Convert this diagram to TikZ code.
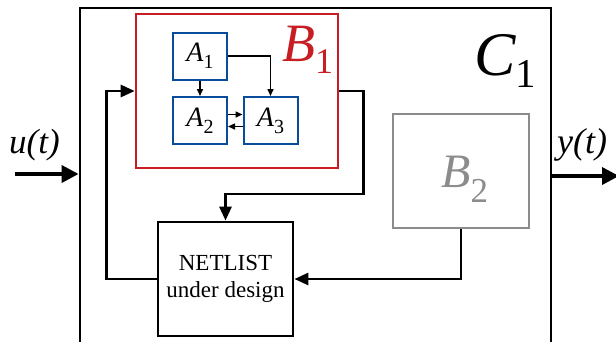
\documentclass[tikz,border=0pt]{standalone}
\usepackage{fontspec}
\setmainfont{Liberation Serif}
\usetikzlibrary{arrows.meta}
\definecolor{bred}{RGB}{200,30,35}
\definecolor{ablue}{RGB}{10,75,155}
\definecolor{bgrey}{RGB}{140,140,140}
% #1 letter, #2 index, #3 letter size, #4 index size, #5 drop
\newcommand\sublab[5]{{\fontsize{#3}{#3}\selectfont\itshape #1}\raisebox{-#5pt}{\fontsize{#4}{#4}\selectfont #2}}
\begin{document}
\begin{tikzpicture}[x=1pt,y=-1pt,
  bigarrow/.style={-{Triangle[length=17pt,width=17pt]}, line width=3.6pt},
  medarrow/.style={-{Triangle[length=14pt,width=12pt]}, line width=2.8pt},
  smallarrow/.style={-{Triangle[length=7pt,width=6pt]}, line width=1.5pt},
  outerbox/.style={draw=black, line width=2.8pt, minimum width=471pt, minimum height=350pt, inner sep=0pt},
  redbox/.style={draw=bred, line width=2.6pt, minimum width=202pt, minimum height=154pt, inner sep=0pt},
  greybox/.style={draw=bgrey, line width=2.6pt, minimum width=136pt, minimum height=114pt, inner sep=0pt},
  netbox/.style={draw=black, line width=2.8pt, minimum width=135pt, minimum height=114pt, inner sep=0pt, align=center, font=\fontsize{23}{27}\selectfont},
  ablock/.style={draw=ablue, line width=2pt, minimum width=54pt, minimum height=47pt, inner sep=0pt},
  lab/.style={inner sep=0pt, anchor=base west},
]
\clip (0,0) rectangle (616,341);
\useasboundingbox (0,0) rectangle (616,341);

\node[outerbox] (C1) at (315.5,183) {};
\node[redbox] (B1) at (237,91) {};
\node[greybox] (B2) at (461,171) {};
\node[netbox] (NL) at (225.5,279) {NETLIST\\under design};

\node[ablock] (A1) at (200,56) {\sublab{A}{1}{28}{20}{7}};
\node[ablock] (A2) at (200,120.5) {\sublab{A}{2}{28}{20}{7}};
\node[ablock] (A3) at (270.5,120.5) {\sublab{A}{3}{28}{20}{7}};

\node[lab, text=bred] (B1lab) at (282,61) {\sublab{B}{1}{54}{36}{12}};
\node[lab] (C1lab) at (474,75) {\sublab{C}{1}{62}{41}{12}};
\node[lab, text=bgrey] (B2lab) at (441,187) {\sublab{B}{2}{48}{35}{15}};
\node[lab] (ulab) at (9,153) {\fontsize{35}{35}\selectfont\itshape u(t)};
\node[lab] (ylab) at (557,153) {\fontsize{36}{36}\selectfont\itshape y(t)};

\coordinate (uin) at (15,174);
\coordinate (yout) at (619,176);

\draw[bigarrow] (uin) -- (C1.west |- uin);
\draw[bigarrow] (C1.east |- yout) -- (yout);

\draw[medarrow] (B1.east) -- ++(24,0) -- ++(0,103) -| (NL.north);
\draw[medarrow] (NL.west) -- ++(-50,0) |- (B1.west);
\draw[medarrow] (B2.south) |- (NL.east);

\draw[smallarrow] (A1.south) -- (A2.north);
\draw[smallarrow] (A1.east) -| (A3.north);
\draw[smallarrow] ([yshift=6pt]A2.east) -- ([yshift=6pt]A3.west);
\draw[smallarrow] ([yshift=-6pt]A3.west) -- ([yshift=-6pt]A2.east);
\end{tikzpicture}
\end{document}
